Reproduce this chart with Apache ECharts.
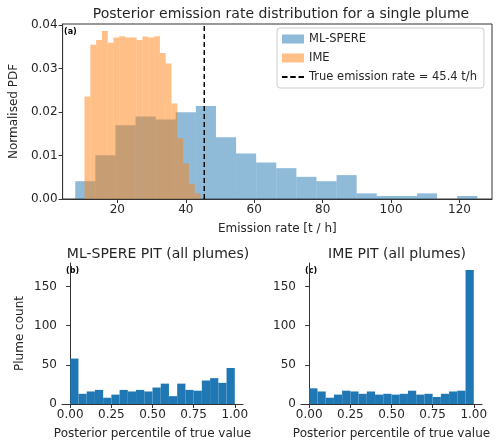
<!DOCTYPE html>
<html><head><meta charset="utf-8">
<script src="https://cdn.jsdelivr.net/npm/echarts@6/dist/echarts.min.js"></script>
<style>html,body{margin:0;padding:0;background:#fff}#c{width:500px;height:444px}</style>
</head><body><div id="c"></div>
<script>
const mlRange = [7.7, 125.2];
const mlHeights = [0.0041,0.0101,0.0170,0.0190,0.0183,0.0200,0.0214,0.0142,0.0105,0.0084,0.0071,0.0051,0.0041,0.0055,0.0013,0.0007,0.0007,0.0013,0,0.0007];
const imeRange = [10.4, 44.3];
const imeHeights = [0.0236,0.0355,0.0366,0.0387,0.0360,0.0372,0.0375,0.0372,0.0372,0.0366,0.0374,0.0372,0.0375,0.0336,0.0312,0.0220,0.0140,0.0082,0.0035,0.0013];
const trueRate = 45.4;
const pitRange = [0, 1];
const mlPit = [58,13,16,18,8,12,18,16,18,16,21,26,10,26,18,17,30,33,27,46];
const imePit = [20,16,8,12,17,16,13,16,12,13,12,13,17,12,13,9,13,16,17,171];
const topTicks = [20,40,60,80,100,120];
const pitTicks = [0,0.25,0.5,0.75,1];
const countTicks = [0,50,100,150];

function bins(range, h){
  const w=(range[1]-range[0])/h.length;
  return h.map((v,i)=>[range[0]+i*w, range[0]+(i+1)*w, v]);
}
function rectRender(color, opacity){
  return function(params, api){
    const p0=api.coord([api.value(0), api.value(2)]);
    const p1=api.coord([api.value(1), 0]);
    return {type:'rect', shape:{x:p0[0], y:p0[1], width:p1[0]-p0[0], height:p1[1]-p0[1]},
      style:{fill:color, opacity:opacity}};
  };
}
const F='DejaVu Sans';
const txt='#262626';
function xAxis(gi,min,max,ticks,name,fmt){
  return {type:'value',gridIndex:gi,min:min,max:max,name:name,nameLocation:'middle',nameGap:24,
    nameTextStyle:{fontFamily:F,fontSize:12,color:txt},
    axisLine:{show:true,onZero:false,lineStyle:{color:'#333'}},splitLine:{show:false},
    axisTick:{show:true,customValues:ticks,length:4,lineStyle:{color:'#333'}},
    axisLabel:{customValues:ticks,fontFamily:F,fontSize:12,color:txt,margin:5,formatter:fmt}};
}
function yAxis(gi,min,max,ticks,name,fmt,gap){
  return {type:'value',gridIndex:gi,min:min,max:max,name:name,nameLocation:'middle',nameGap:gap,
    nameTextStyle:{fontFamily:F,fontSize:12,color:txt},
    axisLine:{show:true,lineStyle:{color:'#333'}},splitLine:{show:false},
    axisTick:{show:true,customValues:ticks,length:4,lineStyle:{color:'#333'}},
    axisLabel:{customValues:ticks,fontFamily:F,fontSize:12,color:txt,formatter:fmt,margin:5}};
}
const f2=v=>v.toFixed(2);
const chart=echarts.init(document.getElementById('c'));
chart.setOption({
  animation:false,
  title:[
    {text:'Posterior emission rate distribution for a single plume',left:276,top:2,textAlign:'center',textStyle:{fontFamily:F,fontSize:14,fontWeight:'normal',color:txt}},
    {text:'ML-SPERE PIT (all plumes)',left:153,top:242,textAlign:'center',textStyle:{fontFamily:F,fontSize:14,fontWeight:'normal',color:txt}},
    {text:'IME PIT (all plumes)',left:392,top:242,textAlign:'center',textStyle:{fontFamily:F,fontSize:14,fontWeight:'normal',color:txt}}
  ],
  grid:[
    {left:60,top:24,width:432,height:175,show:true,borderColor:'#333',borderWidth:1,backgroundColor:'transparent'},
    {left:62,top:263,width:181,height:141},
    {left:301,top:263,width:181,height:141}
  ],
  xAxis:[xAxis(0,4,129.5,topTicks,'Emission rate [t / h]'), xAxis(1,-0.05,1.05,pitTicks,'Posterior percentile of true value',f2), xAxis(2,-0.05,1.05,pitTicks,'Posterior percentile of true value',f2)],
  yAxis:[yAxis(0,0,0.0403,[0,0.01,0.02,0.03,0.04],'Normalised PDF',f2,40), yAxis(1,0,180,countTicks,'Plume count',null,36), yAxis(2,0,180,countTicks,'',null,36)],
  legend:{data:[{name:'ML-SPERE',icon:'rect'},{name:'IME',icon:'rect'},
      {name:'True emission rate = 45.4 t/h',icon:'path://M0,4h6v2h-6z M9,4h6v2h-6z M18,4h6v2h-6z',itemStyle:{color:'#000'}}],
    orient:'vertical',left:277,top:28,itemWidth:22,itemHeight:9,itemGap:7,
    backgroundColor:'rgba(255,255,255,0.8)',borderColor:'#ccc',borderWidth:1,borderRadius:3,padding:[5,7,5,5],
    textStyle:{fontFamily:F,fontSize:11.5,color:txt}},
  series:[
    {name:'ML-SPERE',type:'custom',xAxisIndex:0,yAxisIndex:0,renderItem:rectRender('#1f77b4',0.5),encode:{x:[0,1],y:2},data:bins(mlRange,mlHeights),itemStyle:{color:'rgba(31,119,180,0.5)'}},
    {name:'IME',type:'custom',xAxisIndex:0,yAxisIndex:0,renderItem:rectRender('#ff7f0e',0.5),encode:{x:[0,1],y:2},data:bins(imeRange,imeHeights),itemStyle:{color:'rgba(255,127,14,0.5)'}},
    {name:'True emission rate = 45.4 t/h',type:'line',xAxisIndex:0,yAxisIndex:0,data:[[trueRate,0],[trueRate,0.0403]],symbol:'none',lineStyle:{color:'#000',type:[5,3],width:1.5},itemStyle:{color:'#000'}},
    {type:'custom',xAxisIndex:1,yAxisIndex:1,renderItem:rectRender('#1f77b4',1),encode:{x:[0,1],y:2},data:bins(pitRange,mlPit)},
    {type:'custom',xAxisIndex:2,yAxisIndex:2,renderItem:rectRender('#1f77b4',1),encode:{x:[0,1],y:2},data:bins(pitRange,imePit)}
  ],
  graphic:[
    {type:'text',left:64,top:28,style:{text:'(a)',font:'bold 8px DejaVu Sans',fill:'#000'}},
    {type:'text',left:66,top:267,style:{text:'(b)',font:'bold 8px DejaVu Sans',fill:'#000'}},
    {type:'text',left:305,top:267,style:{text:'(c)',font:'bold 8px DejaVu Sans',fill:'#000'}}
  ]
});
</script></body></html>
